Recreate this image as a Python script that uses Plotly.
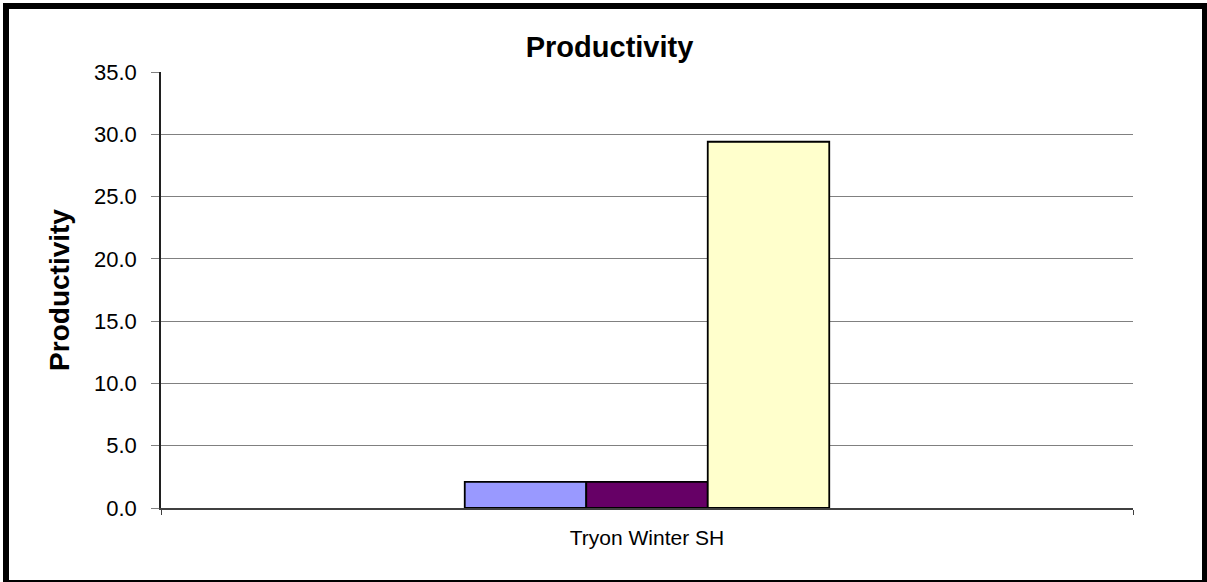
import plotly.graph_objects as go

categories = ["Tryon Winter SH"]
series_names = ["Series 1", "Series 2", "Series 3"]
series_values = [[2.1], [2.1], [29.4]]
series_colors = ["#9999FF", "#660066", "#FFFFCC"]
y_ticks = [0, 5, 10, 15, 20, 25, 30, 35]

W, H = 1207, 582
L, R, T, B = 161, 74, 72, 74
PW, PH = W - L - R, H - T - B


def px(x):
    return (x - L) / PW


def py(y):
    return (H - B - y) / PH


fig = go.Figure()
for name, vals, col in zip(series_names, series_values, series_colors):
    fig.add_trace(go.Bar(
        x=categories, y=vals, name=name,
        marker=dict(color=col, line=dict(color="#000000", width=1.8)),
    ))

fig.update_layout(
    width=W, height=H,
    margin=dict(l=L, r=R, t=T, b=B),
    paper_bgcolor="white", plot_bgcolor="white",
    barmode="group", bargap=0.625, bargroupgap=0,
    showlegend=False,
    font=dict(family="Liberation Sans, Arial, sans-serif", color="black"),
    title=dict(text="<b>Productivity</b>", x=0.505, xanchor="center",
               y=1 - 47 / H, yanchor="middle",
               font=dict(size=29, color="black")),
    xaxis=dict(
        type="category", tickson="boundaries",
        showgrid=True, gridcolor="#808080", gridwidth=1,
        showline=True, linecolor="#404040", linewidth=2,
        ticks="outside", ticklen=5, tickcolor="#404040",
        tickfont=dict(size=21), ticklabelstandoff=10,
    ),
    yaxis=dict(
        range=[0, 35], tickvals=y_ticks, tickformat=".1f",
        showgrid=True, gridcolor="#808080", gridwidth=1,
        zeroline=False,
        showline=True, linecolor="#202020", linewidth=1.5,
        ticks="outside", ticklen=8, tickcolor="#808080",
        tickfont=dict(size=22), ticklabelstandoff=10,
        title=dict(text="<b>Productivity</b>", font=dict(size=28), standoff=16),
    ),
    shapes=[dict(type="rect", xref="paper", yref="paper",
                 x0=px(6), x1=px(1205), y0=py(6), y1=py(583),
                 line=dict(color="black", width=6), layer="above")],
)

fig.write_html("out.html",
               config={"displayModeBar": False},
               post_script="document.body.style.margin='0';document.body.style.overflow='hidden';")
